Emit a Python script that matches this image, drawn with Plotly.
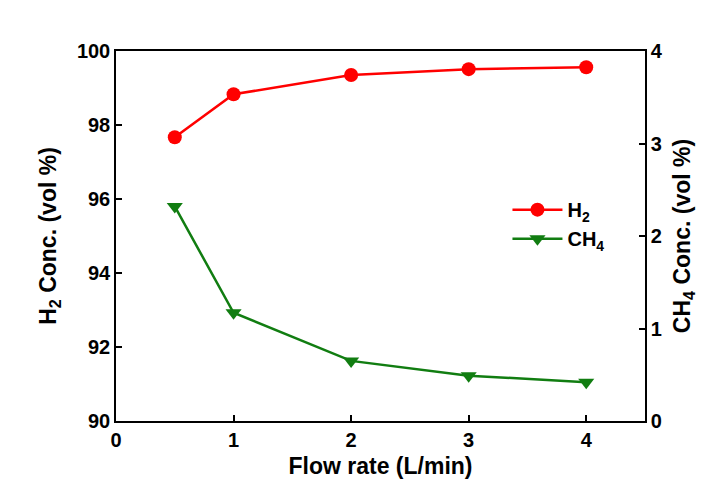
import plotly.graph_objects as go

# dados
flow = [0.5, 1, 2, 3, 4]
h2_conc = [97.67, 98.83, 99.35, 99.51, 99.56]
ch4_conc = [2.32, 1.17, 0.65, 0.49, 0.42]

RED = "#ff0000"
GREEN = "#117d11"
FONT = "Liberation Sans, Arial, sans-serif"

fig = go.Figure()
fig.add_trace(go.Scatter(
    x=flow, y=h2_conc, mode="lines+markers", name="H<sub>2</sub>",
    line=dict(color=RED, width=2.5),
    marker=dict(symbol="circle", size=14, color=RED),
))
fig.add_trace(go.Scatter(
    x=flow, y=ch4_conc, mode="lines+markers", name="CH<sub>4</sub>",
    line=dict(color=GREEN, width=2.5),
    marker=dict(symbol="triangle-down", size=14, color=GREEN),
    yaxis="y2",
))

bold = dict(family=FONT, color="black", weight="bold")
axis_common = dict(
    showgrid=False, zeroline=False, showline=True, linecolor="black",
    linewidth=1.5, ticks="inside", ticklen=6, tickwidth=1.5,
    tickcolor="black", tickfont=dict(size=20, **bold),
    title_font=dict(size=23, **bold),
)

fig.update_layout(
    width=722, height=491,
    paper_bgcolor="white", plot_bgcolor="white",
    font=dict(size=20, **bold),
    margin=dict(l=108, r=85, t=43, b=78),
    xaxis=dict(range=[0, 4.5], tickvals=[0, 1, 2, 3, 4],
               title=dict(text="Flow rate (L/min)", standoff=8),
               mirror=True, **axis_common),
    yaxis=dict(range=[90, 100], tickvals=[90, 92, 94, 96, 98, 100],
               title=dict(text="H<sub>2</sub> Conc. (vol %)", standoff=14),
               **axis_common),
    yaxis2=dict(range=[0, 4], tickvals=[0, 1, 2, 3, 4], overlaying="y",
                side="right",
                title=dict(text="CH<sub>4</sub> Conc. (vol %)", standoff=12),
                **axis_common),
    legend=dict(x=0.74, y=0.532, xanchor="left", yanchor="middle",
                bgcolor="rgba(0,0,0,0)", font=dict(size=20, **bold),
                itemwidth=50, tracegroupgap=0),
    showlegend=True,
)

fig.write_html("out.html")
